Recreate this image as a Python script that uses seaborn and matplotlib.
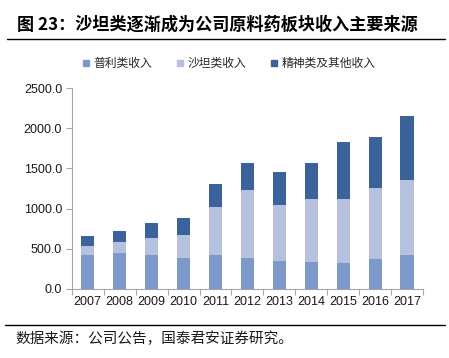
import matplotlib
matplotlib.use("Agg")
import matplotlib.pyplot as plt
from matplotlib.lines import Line2D
import seaborn as sns
import pandas as pd
import numpy as np

years = ["2007", "2008", "2009", "2010", "2011", "2012", "2013", "2014", "2015", "2016", "2017"]
puli = [417, 442, 417, 387, 417, 379, 350, 333, 321, 371, 425]
shatan = [120, 141, 220, 280, 608, 850, 696, 784, 796, 891, 933]
jingshen = [117, 142, 188, 212, 287, 338, 412, 454, 716, 630, 796]
series_names = ["普利类收入", "沙坦类收入", "精神类及其他收入"]
colors = ["#7d99c9", "#b5c1de", "#3c629b"]
yticks = [0, 500, 1000, 1500, 2000, 2500]
title = "图 23：沙坦类逐渐成为公司原料药板块收入主要来源"
source = "数据来源：公司公告，国泰君安证券研究。"

sns.set_style("white")
CJK = ["Noto Sans CJK SC", "DejaVu Sans"]
plt.rcParams["font.family"] = ["Liberation Sans", "Noto Sans CJK SC", "DejaVu Sans"]

df = pd.DataFrame({"year": years, "puli": puli, "shatan": shatan, "jingshen": jingshen})
df["c1"] = df["puli"]
df["c2"] = df["puli"] + df["shatan"]
df["c3"] = df["c2"] + df["jingshen"]

fig = plt.figure(figsize=(4.49, 3.58), dpi=100)
ax = fig.add_axes([0.160, 0.193, 0.782, 0.561])

for col, c in zip(["c3", "c2", "c1"], [colors[2], colors[1], colors[0]]):
    sns.barplot(data=df, x="year", y=col, color=c, width=0.41, ax=ax,
                saturation=1, linewidth=0, order=years)

ax.set_ylim(0, 2500)
ax.set_xlim(-0.5, len(years) - 0.5)
ax.set_yticks(yticks)
ax.set_yticklabels([f"{v:.1f}" for v in yticks])
ax.set_xlabel("")
ax.set_ylabel("")
for s in ["top", "right"]:
    ax.spines[s].set_visible(False)
for s in ["left", "bottom"]:
    ax.spines[s].set_color("#a6a6a6")
    ax.spines[s].set_linewidth(0.8)
ax.tick_params(axis="y", which="major", direction="out", length=4, width=0.8,
               color="#a6a6a6", labelsize=9, labelcolor="#1a1a1a", pad=3, left=True)
ax.tick_params(axis="x", which="major", length=0, labelsize=9, labelcolor="#1a1a1a", pad=5)
ax.set_xticks(np.arange(-0.5, len(years), 1.0), minor=True)
ax.tick_params(axis="x", which="minor", direction="out", length=4, width=0.8,
               color="#a6a6a6", bottom=True)

handles = [Line2D([0], [0], marker="s", linestyle="", markersize=4.5,
                  markerfacecolor=c, markeredgecolor=c) for c in colors]
fig.legend(handles, series_names, loc="center", bbox_to_anchor=(0.507, 0.822),
           ncol=3, frameon=False, prop={"family": CJK, "size": 8.5},
           handletextpad=0.1, columnspacing=1.9, handlelength=1.0)

fig.text(0.038, 0.932, title, family=CJK, fontsize=12.3, fontweight="bold",
         ha="left", va="center", color="#000000")
fig.add_artist(Line2D([0.016, 0.991], [0.891, 0.891], transform=fig.transFigure,
                      color="black", linewidth=1.0))
fig.add_artist(Line2D([0.011, 0.991], [0.092, 0.092], transform=fig.transFigure,
                      color="black", linewidth=1.0))
fig.text(0.035, 0.055, source, family=CJK, fontsize=10.5, ha="left", va="center",
         color="#1a1a1a")

fig.savefig("out.png", dpi=100)
